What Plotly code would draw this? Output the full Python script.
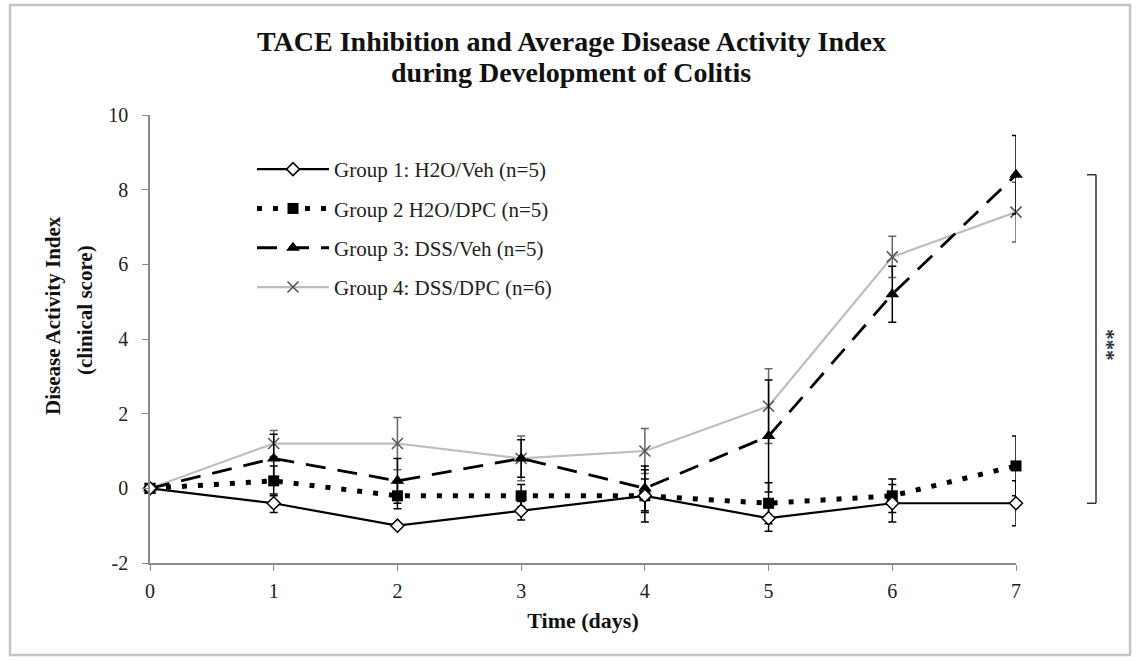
import plotly.graph_objects as go

days = [0, 1, 2, 3, 4, 5, 6, 7]

g1_name = "Group 1: H2O/Veh (n=5)"
g1_mean = [0, -0.4, -1.0, -0.6, -0.2, -0.8, -0.4, -0.4]
g1_err = [0, 0.25, 0.0, 0.25, 0.7, 0.35, 0.5, 0.6]

g2_name = "Group 2 H2O/DPC (n=5)"
g2_mean = [0, 0.2, -0.2, -0.2, -0.2, -0.4, -0.2, 0.6]
g2_err = [0, 0.4, 0.35, 0.3, 0.45, 0.55, 0.45, 0.8]

g3_name = "Group 3: DSS/Veh (n=5)"
g3_mean = [0, 0.8, 0.2, 0.8, 0.0, 1.4, 5.2, 8.4]
g3_err = [0, 0.65, 0.6, 0.5, 0.6, 1.5, 0.75, 1.05]

g4_name = "Group 4: DSS/DPC (n=6)"
g4_mean = [0, 1.2, 1.2, 0.8, 1.0, 2.2, 6.2, 7.4]
g4_err = [0, 0.35, 0.7, 0.6, 0.6, 1.0, 0.55, 0.8]

x_ticks = [0, 1, 2, 3, 4, 5, 6, 7]
y_ticks = [-2, 0, 2, 4, 6, 8, 10]
y_ticktext = ["-2", "0", "2", "4", "6", "8", "10"]

title_lines = ["TACE Inhibition and Average Disease Activity Index", "during Development of Colitis"]
ylabel_lines = ["Disease Activity Index", "(clinical score)"]

FONT = "Liberation Serif, Times New Roman, serif"

fig = go.Figure()

def err(vals, color):
    return dict(type="data", array=vals, visible=True, color=color, thickness=1.5, width=4)

fig.add_trace(go.Scatter(
    x=days, y=g4_mean, name=g4_name, mode="lines+markers", legendgroup="g4",
    line=dict(color="#bdbdbd", width=2.2),
    marker=dict(symbol="x-thin-open", size=11, color="#555", line=dict(color="#555", width=1.6)),
    error_y=err(g4_err, "#666"), cliponaxis=False, legendrank=4))

fig.add_trace(go.Scatter(
    x=days, y=g3_mean, name=g3_name, mode="lines+markers", legendgroup="g3",
    line=dict(color="black", width=2.8, dash="20px,12px"),
    marker=dict(symbol="triangle-up", size=12, color="black"),
    error_y=err(g3_err, "black"), cliponaxis=False, legendrank=3))

fig.add_trace(go.Scatter(
    x=days, y=g2_mean, name=g2_name, mode="lines+markers", legendgroup="g2",
    line=dict(color="black", width=5, dash="5px,11px"),
    marker=dict(symbol="square", size=11, color="black"),
    error_y=err(g2_err, "black"), cliponaxis=False, legendrank=2))

fig.add_trace(go.Scatter(
    x=days, y=g1_mean, name=g1_name, mode="lines+markers", legendgroup="g1",
    line=dict(color="black", width=2.2),
    marker=dict(symbol="diamond", size=10, color="white", line=dict(color="black", width=1.5)),
    error_y=err(g1_err, "black"), cliponaxis=False, legendrank=1))

L, R, T, B = 150, 120, 115, 98
W, H = 1136, 661
pw, ph = W - L - R, H - T - B

def px(xp):
    return (xp - L) / pw

def py(yp):
    return (H - B - yp) / ph

shapes = [
    dict(type="rect", xref="paper", yref="paper", x0=px(10), x1=px(1130), y0=py(655), y1=py(5),
         line=dict(color="#c4c4c4", width=2.5), layer="below"),
    dict(type="line", xref="paper", yref="y", x0=px(1096), x1=px(1096), y0=g1_mean[-1], y1=g3_mean[-1],
         line=dict(color="#333", width=1.5)),
    dict(type="line", xref="paper", yref="y", x0=px(1087), x1=px(1096), y0=g3_mean[-1], y1=g3_mean[-1],
         line=dict(color="#333", width=1.5)),
    dict(type="line", xref="paper", yref="y", x0=px(1087), x1=px(1096), y0=g1_mean[-1], y1=g1_mean[-1],
         line=dict(color="#333", width=1.5)),
]

annotations = [
    dict(text="<b>%s</b>" % title_lines[0], xref="paper", yref="paper", x=px(571), y=py(42),
         xanchor="center", yanchor="middle", showarrow=False,
         font=dict(family=FONT, size=28, color="#111")),
    dict(text="<b>%s</b>" % title_lines[1], xref="paper", yref="paper", x=px(571), y=py(72),
         xanchor="center", yanchor="middle", showarrow=False,
         font=dict(family=FONT, size=28, color="#111")),
    dict(text="<b>%s</b>" % ylabel_lines[0], xref="paper", yref="paper", x=px(53), y=py(316),
         xanchor="center", yanchor="middle", textangle=-90, showarrow=False,
         font=dict(family=FONT, size=21, color="#111")),
    dict(text="<b>%s</b>" % ylabel_lines[1], xref="paper", yref="paper", x=px(85), y=py(310),
         xanchor="center", yanchor="middle", textangle=-90, showarrow=False,
         font=dict(family=FONT, size=21, color="#111")),
    dict(text="<b>***</b>", xref="paper", yref="paper", x=px(1107), y=py(345),
         xanchor="center", yanchor="middle", textangle=90, showarrow=False,
         font=dict(family=FONT, size=21, color="#2a3340")),
]

axis_common = dict(showline=True, linecolor="#8a8a8a", linewidth=1.5, ticks="outside",
                   tickcolor="#8a8a8a", ticklen=6, tickwidth=1.2, showgrid=False, zeroline=False,
                   tickfont=dict(family=FONT, size=20, color="#222"))

fig.update_layout(
    width=W, height=H,
    margin=dict(l=L, r=R, t=T, b=B),
    paper_bgcolor="white", plot_bgcolor="white",
    xaxis=dict(range=[0, 7], tickvals=x_ticks, ticklabelstandoff=3, **axis_common,
               title=dict(text="<b>Time (days)</b>", font=dict(family=FONT, size=22, color="#111"), standoff=12)),
    yaxis=dict(range=[-2, 10], tickvals=y_ticks, ticktext=y_ticktext, ticklabelstandoff=10, **axis_common),
    showlegend=True,
    legend=dict(x=px(252), y=py(149), xanchor="left", yanchor="top",
                bgcolor="rgba(0,0,0,0)", tracegroupgap=9, traceorder="grouped",
                font=dict(family=FONT, size=21, color="#222"), itemwidth=72),
    shapes=shapes, annotations=annotations,
)

fig.write_html("out.html", config={"displayModeBar": False},
               post_script="document.body.style.margin='0';document.body.style.overflow='hidden';")
